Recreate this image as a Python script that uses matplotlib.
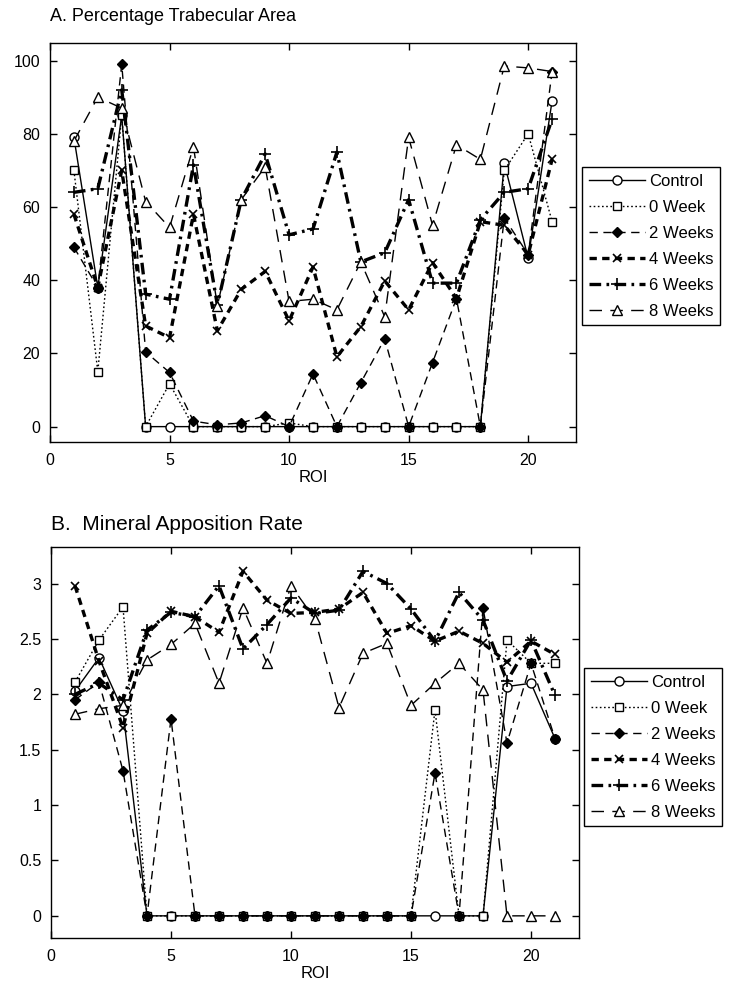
import matplotlib
matplotlib.use("Agg")
import matplotlib.pyplot as plt
import numpy as np

plt.rcParams['font.family'] = ['Liberation Sans', 'DejaVu Sans']

roi = list(range(1, 22))
labels = ["Control", "0 Week", "2 Weeks", "4 Weeks", "6 Weeks", "8 Weeks"]

# Panel A: Percentage Trabecular Area
a_control = [79, 38, 85, 0, 0, 0, 0, 0, 0, 0, 0, 0, 0, 0, 0, 0, 0, 0, 72, 46, 89]
a_week0 = [70, 15, 85, 0, 11.7, 0, 0, 0, 0, 1, 0, 0, 0, 0, 0, 0, 0, 0, 70, 80, 56]
a_week2 = [49, 38, 99, 20.4, 14.8, 1.5, 0.5, 1, 3, 0, 14.4, 0, 12, 24, 0, 17.5, 35, 0, 57, 47, 97]
a_week4 = [58, 38, 70, 27.5, 24.3, 58, 26.2, 37.5, 42.4, 28.9, 43.6, 19.1, 27.3, 39.8, 31.9, 44.8, 35, 56, 55, 47, 73]
a_week6 = [64, 65, 92, 36.2, 34.8, 71.5, 33.2, 62, 74.5, 52.4, 54, 75, 45, 47.5, 62, 39.2, 39.2, 56.5, 64, 65, 84]
a_week8 = [78, 90, 87, 61.5, 54.4, 76.5, 33, 62, 71, 34.2, 34.8, 31.9, 45, 30, 79, 55, 77, 73, 98.5, 98, 97]

# Panel B: Mineral Apposition Rate
b_control = [2.03, 2.33, 1.85, 0, 0, 0, 0, 0, 0, 0, 0, 0, 0, 0, 0, 0, 0, 0, 2.07, 2.1, 1.6]
b_week0 = [2.11, 2.49, 2.79, 0, 0, 0, 0, 0, 0, 0, 0, 0, 0, 0, 0, 1.86, 0, 0, 2.49, 2.28, 2.28]
b_week2 = [1.95, 2.11, 1.31, 0, 1.78, 0, 0, 0, 0, 0, 0, 0, 0, 0, 0, 1.29, 0, 2.78, 1.56, 2.28, 1.6]
b_week4 = [2.98, 2.3, 1.7, 2.55, 2.75, 2.7, 2.56, 3.11, 2.85, 2.73, 2.74, 2.77, 2.92, 2.55, 2.62, 2.48, 2.57, 2.46, 2.29, 2.48, 2.36]
b_week6 = [2.0, 2.1, 1.95, 2.58, 2.74, 2.7, 2.98, 2.41, 2.63, 2.87, 2.73, 2.76, 3.11, 3.0, 2.77, 2.48, 2.92, 2.67, 2.12, 2.49, 1.99]
b_week8 = [1.82, 1.87, 1.9, 2.31, 2.45, 2.64, 2.1, 2.78, 2.28, 2.98, 2.68, 1.88, 2.37, 2.46, 1.9, 2.1, 2.28, 2.04, 0, 0, 0]

styles = [
    dict(ls='-', lw=1.0, marker='o', ms=6.5, mfc='white', mec='black', mew=1.0),
    dict(ls=(0, (1.2, 1.8)), lw=1.0, marker='s', ms=5.5, mfc='white', mec='black', mew=1.0),
    dict(ls=(0, (6, 4)), lw=1.0, marker='D', ms=5.5, mfc='black', mec='black', mew=1.0),
    dict(ls=(0, (2.2, 1.6)), lw=2.4, marker='x', ms=6, mfc='none', mec='black', mew=1.2),
    dict(ls=(0, (3.5, 1.6, 0.8, 1.6)), lw=2.4, marker='+', ms=8, mfc='none', mec='black', mew=1.2),
    dict(ls=(0, (9, 6)), lw=1.0, marker='^', ms=7, mfc='white', mec='black', mew=1.0),
]

W, H = 729, 994
fig = plt.figure(figsize=(W / 100, H / 100), dpi=100)

def add_ax(l, r, t, b):
    return fig.add_axes([l / W, 1 - b / H, (r - l) / W, (b - t) / H])

axA = add_ax(50, 576, 43, 442)
axB = add_ax(51, 579, 547, 938)

def draw(ax, series, ylim, yticks, yticklabels, title, tsize, tpad, legpos):
    handles = []
    for s, lab, st in zip(series, labels, styles):
        h, = ax.plot(roi, s, color='black', label=lab, **st)
        handles.append(h)
    ax.set_xlim(0, 22)
    ax.set_ylim(*ylim)
    ax.set_xticks([0, 5, 10, 15, 20])
    ax.set_yticks(yticks)
    ax.set_yticklabels(yticklabels)
    ax.tick_params(direction='in', top=True, right=True, length=5, width=1,
                   labelsize=11.5)
    ax.tick_params(axis='x', pad=8)
    ax.tick_params(axis='y', pad=7)
    for sp in ax.spines.values():
        sp.set_linewidth(1.0)
    ax.set_xlabel("ROI", fontsize=12, labelpad=1)
    ax.set_title(title, loc='left', fontsize=tsize, pad=tpad, x=0.0)
    leg = ax.legend(handles=handles, loc='upper left',
                    bbox_to_anchor=(legpos[0] / W, 1 - legpos[1] / H),
                    bbox_transform=fig.transFigure, borderaxespad=0,
                    fontsize=12, handlelength=3.4, handletextpad=0.2,
                    labelspacing=0.66, borderpad=0.4, fancybox=False,
                    framealpha=1, edgecolor='black')
    leg.get_frame().set_linewidth(1.0)

draw(axA, [a_control, a_week0, a_week2, a_week4, a_week6, a_week8],
     (-4.2, 104.8), [0, 20, 40, 60, 80, 100],
     ["0", "20", "40", "60", "80", "100"],
     "A. Percentage Trabecular Area", 13, 16, (582, 167))
draw(axB, [b_control, b_week0, b_week2, b_week4, b_week6, b_week8],
     (-0.2, 3.33), [0, 0.5, 1, 1.5, 2, 2.5, 3],
     ["0", "0.5", "1", "1.5", "2", "2.5", "3"],
     "B.  Mineral Apposition Rate", 15, 12, (584, 668))

fig.savefig("out.png", dpi=100)
